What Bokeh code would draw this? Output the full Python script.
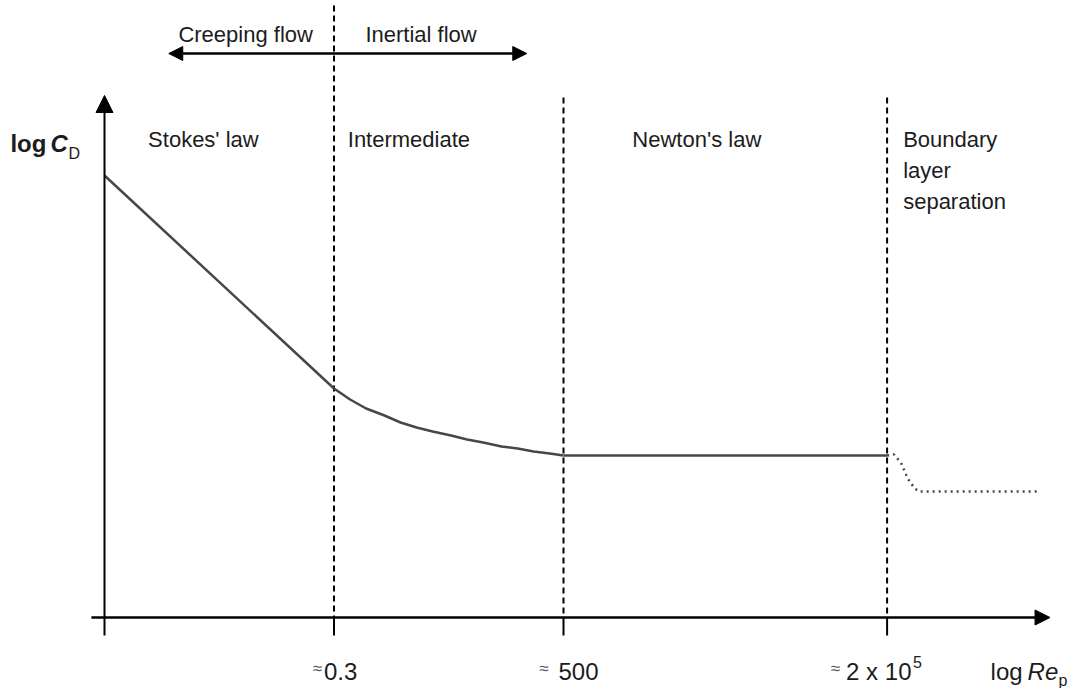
from bokeh.plotting import figure
from bokeh.models import Range1d, Arrow, NormalHead, Label
from bokeh.embed import file_html
from bokeh.resources import INLINE

# Schematic drag curve of a sphere: x = log Re_p, y = log C_D (arbitrary units)
regime_bounds = [1.0, 2.0, 3.41]            # ~0.3, ~500, ~2e5
bound_tops = [6.12, 5.20, 5.20]

stokes_x = [0.0, 1.0]
stokes_y = [4.42, 2.29]

inter_x = [1.0, 1.07, 1.14, 1.22, 1.29, 1.36, 1.43, 1.51, 1.58, 1.65, 1.73, 1.80, 1.87, 1.94, 2.0]
inter_y = [2.29, 2.18, 2.09, 2.02, 1.95, 1.90, 1.86, 1.82, 1.78, 1.75, 1.71, 1.69, 1.66, 1.64, 1.62]

newton_x = [2.0, 3.41]
newton_y = [1.62, 1.62]

sep_x = [3.41, 3.44, 3.47, 3.50, 3.53, 3.55, 4.07]
sep_y = [1.62, 1.63, 1.55, 1.39, 1.29, 1.26, 1.26]

regime_names = ["Stokes' law", "Intermediate", "Newton's law"]
regime_name_x = [0.19, 1.06, 2.30]
boundary_lines = ["Boundary", "layer", "separation"]

tick_values = ["0.3", "500", "2 x 10"]
tick_offsets = [-10, -5, -41]
approx_offsets = [-12, -15, -47]

FONT = "Liberation Sans, Arial, sans-serif"
INK = "#1c1c1c"

# one data unit in x is 229.5 px, in y 100 px
XU, YU = 229.5, 100.0
p = figure(width=1077, height=688, output_backend="svg", toolbar_location=None,
           x_range=Range1d(-104 / XU, 973 / XU), y_range=Range1d(-71 / YU, 617 / YU),
           x_axis_type=None, y_axis_type=None, min_border=0)
p.outline_line_color = None
p.grid.visible = False
p.background_fill_color = "white"

# regime boundaries
p.segment(x0=regime_bounds, y0=bound_tops, x1=regime_bounds, y1=[0] * 3,
          line_color="black", line_width=2, line_dash="6 4")
# ticks under the x axis
p.segment(x0=regime_bounds, y0=[0] * 3, x1=regime_bounds, y1=[-0.18] * 3,
          line_color="black", line_width=2)

# drag curve
CURVE = "#474747"
p.line(stokes_x, stokes_y, line_color=CURVE, line_width=2.5)
p.line(inter_x, inter_y, line_color=CURVE, line_width=2.5)
p.line(newton_x, newton_y, line_color=CURVE, line_width=2.5)
p.line(sep_x, sep_y, line_color=CURVE, line_width=2.5, line_dash="2 4")

# axes with arrow heads
p.add_layout(Arrow(x_start=-0.057, y_start=0, x_end=4.12, y_end=0, line_width=2.5,
                   end=NormalHead(size=15, fill_color="black", line_color="black")))
p.add_layout(Arrow(x_start=0, y_start=-0.18, x_end=0, y_end=5.22, line_width=2,
                   end=NormalHead(size=17, fill_color="black", line_color="black")))
# creeping / inertial double arrow
p.add_layout(Arrow(x_start=0.28, y_start=5.64, x_end=1.84, y_end=5.64, line_width=2.5,
                   start=NormalHead(size=14, fill_color="black", line_color="black"),
                   end=NormalHead(size=14, fill_color="black", line_color="black")))


def label(x, y, text, size, **kw):
    opts = dict(text_font=FONT, text_font_size=size, text_color=INK,
                text_baseline="alphabetic", text_align="left")
    opts.update(kw)
    p.add_layout(Label(x=x, y=y, text=text, **opts))


label(0.322, 5.83, "Creeping flow", "22px")
label(1.137, 5.83, "Inertial flow", "22px")

for name, nx in zip(regime_names, regime_name_x):
    label(nx, 4.78, name, "22px")
for i, line in enumerate(boundary_lines):
    label(3.48, 4.78 - 0.31 * i, line, "22px")

# y axis title: log C_D
label(-0.41, 4.74, "log", "24px", text_font_style="bold")
label(-0.235, 4.74, "C", "24px", text_font_style="bold italic")
label(-0.157, 4.64, "D", "16px")

# tick labels
for bx, txt, off, aoff in zip(regime_bounds, tick_values, tick_offsets, approx_offsets):
    label(bx, -0.54, txt, "24px", x_offset=off)
    label(bx, -0.51, "≈", "17px", x_offset=aoff, text_align="right", text_color="#555555")
label(regime_bounds[2], -0.44, "5", "16px", x_offset=26)

# x axis title: log Re_p
label(3.861, -0.54, "log", "24px")
label(4.022, -0.54, "Re", "24px", text_font_style="italic")
label(4.157, -0.63, "p", "16px")

open("out.html", "w").write(file_html(p, INLINE))
